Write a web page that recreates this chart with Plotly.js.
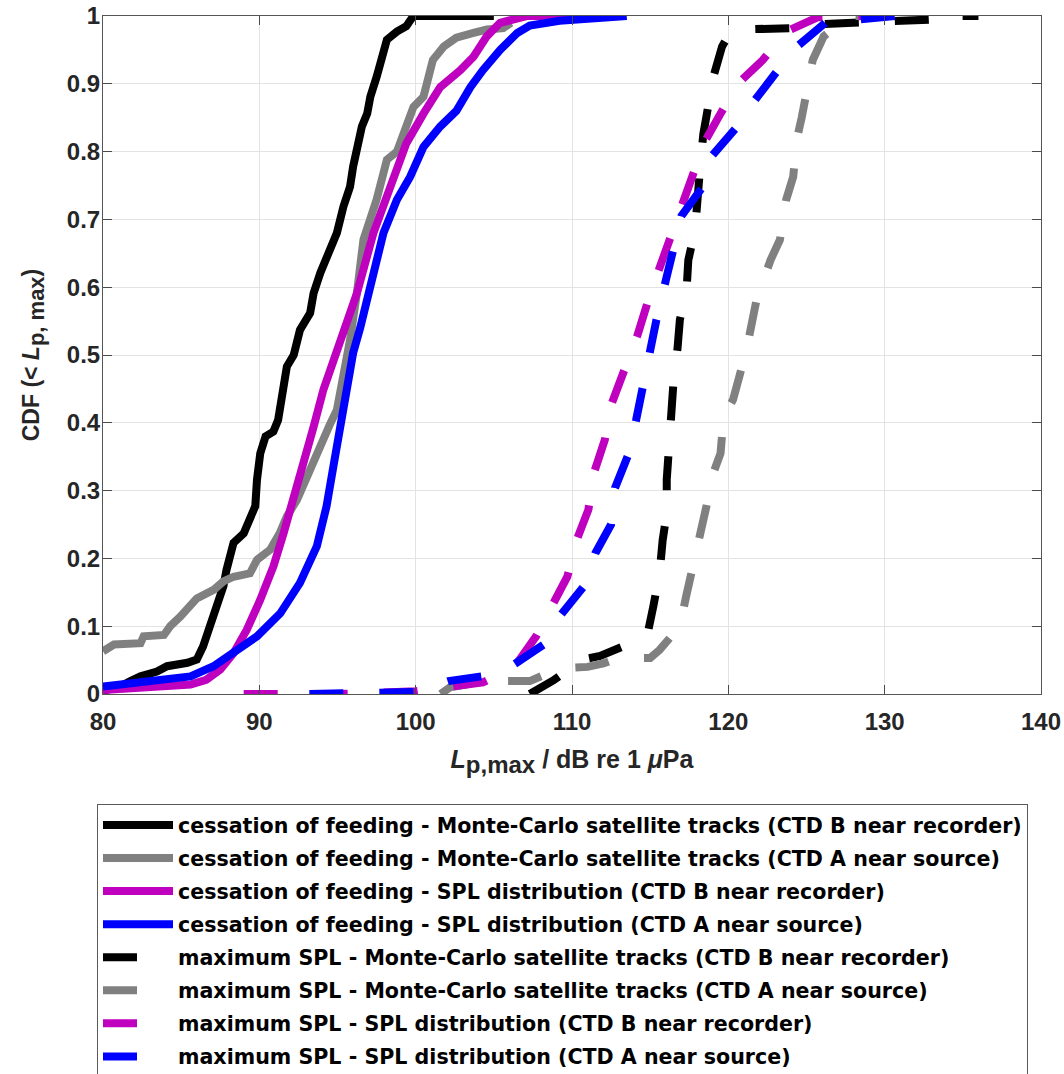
<!DOCTYPE html>
<html><head><meta charset="utf-8">
<script src="https://cdn.plot.ly/plotly-3.0.1.min.js"></script>
<style>html,body{margin:0;padding:0;background:#fff}</style>
</head><body><div id="chart" style="width:1064px;height:1074px"></div>
<script>
// ---- series names ----
const seriesNames = [
  'cessation of feeding - Monte-Carlo satellite tracks (CTD B near recorder)',
  'cessation of feeding - Monte-Carlo satellite tracks (CTD A near source)',
  'cessation of feeding - SPL distribution (CTD B near recorder)',
  'cessation of feeding - SPL distribution (CTD A near source)',
  'maximum SPL - Monte-Carlo satellite tracks (CTD B near recorder)',
  'maximum SPL - Monte-Carlo satellite tracks (CTD A near source)',
  'maximum SPL - SPL distribution (CTD B near recorder)',
  'maximum SPL - SPL distribution (CTD A near source)'
];
// ---- cessation of feeding, Monte-Carlo, CTD B ----
const cofMcB_x = [80, 81.0, 81.75, 82.4, 83.45, 84.1, 85.4, 86.0, 86.4, 86.86, 87.3, 87.7, 87.9, 88.35, 89.0, 89.4, 89.74, 89.85, 90.06, 90.4, 90.9, 91.2, 91.45, 91.76, 92.2, 92.6, 93.25, 93.47, 93.9, 94.3, 94.96, 95.38, 95.8, 96.0, 96.3, 96.56, 96.9, 97.1, 97.5, 98.16, 98.8, 99.4, 99.76, 99.9, 105.0];
const cofMcB_y = [0.005, 0.01, 0.019, 0.026, 0.033, 0.041, 0.046, 0.051, 0.07, 0.10, 0.129, 0.159, 0.183, 0.223, 0.237, 0.257, 0.277, 0.316, 0.355, 0.38, 0.387, 0.404, 0.444, 0.483, 0.50, 0.537, 0.562, 0.591, 0.621, 0.645, 0.68, 0.719, 0.748, 0.778, 0.817, 0.837, 0.856, 0.881, 0.91, 0.965, 0.977, 0.985, 0.997, 1.0, 1.0];
// ---- cessation of feeding, Monte-Carlo, CTD A ----
const cofMcA_x = [80, 80.7, 82.4, 82.6, 83.9, 84.3, 84.94, 85.6, 86.0, 87.1, 87.7, 88.35, 89.4, 89.85, 90.7, 91.3, 91.76, 92.4, 93.04, 93.47, 94.1, 94.5, 94.96, 95.38, 95.8, 96.24, 96.66, 97.5, 98.16, 98.8, 99.4, 99.86, 100.5, 100.9, 101.1, 101.8, 102.6, 103.7, 104.55, 105.6, 106.1];
const cofMcA_y = [0.063, 0.073, 0.075, 0.085, 0.087, 0.10, 0.114, 0.129, 0.141, 0.154, 0.166, 0.173, 0.178, 0.198, 0.213, 0.237, 0.262, 0.286, 0.321, 0.345, 0.38, 0.397, 0.419, 0.468, 0.522, 0.591, 0.67, 0.729, 0.788, 0.80, 0.837, 0.866, 0.881, 0.916, 0.935, 0.955, 0.968, 0.975, 0.98, 0.982, 0.99];
// ---- cessation of feeding, SPL distribution, CTD B ----
const cofSplB_x = [80, 82.8, 85.6, 86.6, 87.5, 88.35, 89.2, 90.06, 90.9, 91.55, 92.19, 92.8, 93.47, 94.1, 94.74, 95.17, 96.24, 97.3, 98.37, 99.4, 100.5, 101.57, 102.85, 103.7, 104.55, 105.4, 107.1, 110.1];
const cofSplB_y = [0.006, 0.009, 0.014, 0.021, 0.036, 0.06, 0.095, 0.139, 0.188, 0.237, 0.286, 0.34, 0.394, 0.449, 0.493, 0.522, 0.591, 0.68, 0.748, 0.812, 0.856, 0.895, 0.92, 0.94, 0.97, 0.99, 1.0, 1.0];
// ---- cessation of feeding, SPL distribution, CTD A ----
const cofSplA_x = [80, 82.8, 85.6, 87.07, 88.35, 89.85, 91.34, 92.6, 93.68, 94.3, 94.74, 95.17, 95.6, 96.0, 96.45, 97.1, 97.94, 98.8, 99.65, 100.5, 101.57, 102.6, 103.5, 104.3, 105.4, 106.5, 107.3, 109.2, 111.4, 113.5];
const cofSplA_y = [0.011, 0.019, 0.026, 0.041, 0.06, 0.085, 0.119, 0.164, 0.218, 0.277, 0.336, 0.394, 0.449, 0.503, 0.54, 0.606, 0.68, 0.729, 0.763, 0.807, 0.837, 0.86, 0.895, 0.92, 0.95, 0.975, 0.986, 0.993, 0.997, 1.0];
// ---- maximum SPL, Monte-Carlo, CTD B ----
const maxMcB_x = [107.3, 108.0, 108.8, 110.0, 110.5, 111.8, 113.3, 114.8, 115.2, 115.6, 115.8, 116.06, 116.06, 116.16, 116.4, 116.5, 116.75, 116.9, 117.33, 117.44, 117.87, 118.08, 118.2, 118.4, 118.7, 119.04, 119.6, 120.1, 120.64, 123.9, 124.8, 127.8, 129.05, 131.5, 133.2, 133.3, 136.0];
const maxMcB_y = [0, 0.008, 0.02, 0.04, 0.05, 0.056, 0.07, 0.085, 0.129, 0.178, 0.227, 0.267, 0.316, 0.36, 0.414, 0.463, 0.51, 0.552, 0.596, 0.64, 0.684, 0.729, 0.778, 0.826, 0.866, 0.91, 0.955, 0.975, 0.98, 0.982, 0.987, 0.99, 0.992, 0.992, 0.995, 1.0, 1.0];
// ---- maximum SPL, Monte-Carlo, CTD A ----
const maxMcA_x = [101.6, 102.2, 103.5, 105.2, 107.3, 108.5, 109.2, 111.0, 112.0, 112.9, 115.0, 115.6, 116.2, 116.9, 117.3, 117.76, 118.2, 118.6, 119.04, 119.5, 119.7, 120.3, 120.76, 121.2, 121.8, 122.7, 123.3, 123.7, 124.15, 124.37, 124.7, 125.2, 125.4, 126.1, 126.9, 127.2, 127.6, 128.5];
const maxMcA_y = [0, 0.01, 0.015, 0.019, 0.019, 0.03, 0.038, 0.040, 0.045, 0.053, 0.053, 0.065, 0.08, 0.10, 0.144, 0.188, 0.237, 0.277, 0.326, 0.355, 0.409, 0.434, 0.473, 0.512, 0.581, 0.64, 0.67, 0.729, 0.763, 0.817, 0.851, 0.905, 0.935, 0.97, 0.985, 0.995, 1.0, 1.0];
// ---- maximum SPL, SPL distribution, CTD B ----
const maxSplB_x = [89, 95, 100, 102.2, 104.3, 105.5, 106.5, 107.7, 108.7, 109.7, 110.3, 111.05, 111.4, 112.1, 112.5, 113.3, 114.2, 115.0, 115.8, 116.6, 117.3, 117.9, 118.5, 119.5, 120.6, 122.2, 123.7, 125.7, 128.9];
const maxSplB_y = [0, 0, 0.004, 0.01, 0.017, 0.03, 0.046, 0.085, 0.129, 0.173, 0.227, 0.272, 0.326, 0.375, 0.426, 0.473, 0.53, 0.59, 0.64, 0.69, 0.74, 0.77, 0.815, 0.856, 0.90, 0.935, 0.977, 0.998, 1.0];
// ---- maximum SPL, SPL distribution, CTD A ----
const maxSplA_x = [93.2, 100, 102.1, 104.2, 106.25, 108.2, 109.3, 110.7, 111.5, 112.5, 112.75, 113.6, 114.1, 114.5, 115.0, 115.4, 116.0, 116.5, 117.0, 118.3, 119.0, 120.5, 121.7, 123.1, 124.5, 126.2, 128.4, 130.7];
const maxSplA_y = [0, 0.003, 0.019, 0.026, 0.043, 0.073, 0.117, 0.157, 0.208, 0.25, 0.304, 0.353, 0.404, 0.452, 0.51, 0.552, 0.61, 0.66, 0.705, 0.746, 0.795, 0.835, 0.876, 0.918, 0.957, 0.99, 0.995, 1.0];

const xTickVals = [80, 90, 100, 110, 120, 130, 140];
const yTickVals = [0, 0.1, 0.2, 0.3, 0.4, 0.5, 0.6, 0.7, 0.8, 0.9, 1];

const FONT = 'Liberation Sans, Arial, Helvetica, sans-serif';
const LFONT = 'DejaVu Sans, Verdana, sans-serif';
const colors = ['#000000', '#808080', '#bf00bf', '#0000ff', '#000000', '#808080', '#bf00bf', '#0000ff'];
const xs = [cofMcB_x, cofMcA_x, cofSplB_x, cofSplA_x, maxMcB_x, maxMcA_x, maxSplB_x, maxSplA_x];
const ys = [cofMcB_y, cofMcA_y, cofSplB_y, cofSplA_y, maxMcB_y, maxMcA_y, maxSplB_y, maxSplA_y];

const traces = xs.map((x, i) => ({
  type: 'scatter', mode: 'lines', x: x, y: ys[i], name: seriesNames[i],
  legendgroup: 'g' + i,
  line: {color: colors[i], width: 8, dash: i < 4 ? 'solid' : '34px,36px'},
  hoverinfo: 'skip'
}));

const axisCommon = {
  showline: true, linecolor: '#555555', linewidth: 1, mirror: 'ticks',
  ticks: 'inside', ticklen: 9, tickwidth: 1, tickcolor: '#4a4a4a',
  showgrid: true, gridcolor: '#e3e3e3', gridwidth: 1, zeroline: false,
  tickfont: {family: FONT, size: 24, color: '#262626', weight: 'bold'}
};

const layout = {
  width: 1064, height: 1074,
  margin: {l: 103, r: 23, t: 16, b: 380, pad: 0},
  paper_bgcolor: '#ffffff', plot_bgcolor: '#ffffff',
  showlegend: true,
  xaxis: Object.assign({}, axisCommon, {
    range: [80, 140], tickmode: 'array', tickvals: xTickVals, ticktext: xTickVals.map(String),
    ticklabelstandoff: 6, automargin: false,
    title: {text: '<b><i>L</i><sub><span style="font-size:24px">p,max</span></sub> / dB re 1 <i>μ</i>Pa</b>', font: {family: FONT, size: 25, color: '#262626'}, standoff: 16}
  }),
  yaxis: Object.assign({}, axisCommon, {
    range: [0, 1], tickmode: 'array', tickvals: yTickVals, ticktext: yTickVals.map(String),
    ticklabelstandoff: -3, automargin: false,
    title: {text: '<b>CDF (&lt; <i>L</i><sub><span style="font-size:22px">p, max</span></sub>)</b>', font: {family: FONT, size: 23, color: '#262626'}, standoff: 20}
  }),
  legend: {
    xref: 'paper', yref: 'container',
    x: -6 / 938, xanchor: 'left', y: (1074 - 804) / 1074, yanchor: 'top',
    bgcolor: '#ffffff', bordercolor: '#5a5a5a', borderwidth: 1,
    font: {family: LFONT, size: 20.6, color: '#000000', weight: 'bold'},
    itemwidth: 70, traceorder: 'grouped', tracegroupgap: 3.3
  }
};

Plotly.newPlot('chart', traces, layout, {staticPlot: true, displayModeBar: false});
</script>
</body></html>
